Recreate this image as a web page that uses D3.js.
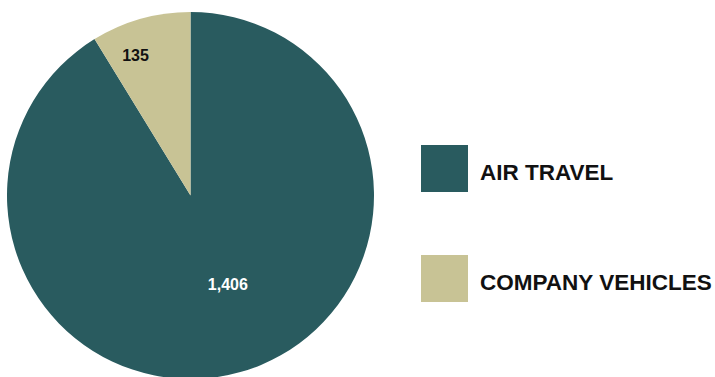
<!DOCTYPE html>
<html>
<head>
<meta charset="utf-8">
<script src="https://cdn.jsdelivr.net/npm/d3@7"></script>
<style>
  body { margin: 0; background: #fff; }
  svg { display: block; font-family: "Liberation Sans", Arial, sans-serif; }
</style>
</head>
<body>
<script>
const categories = ["AIR TRAVEL", "COMPANY VEHICLES"];
const values = [1406, 135];
const colors = ["#295b5f", "#c8c395"];

const width = 715, height = 377;
const cx = 190.5, cy = 195.5, radius = 183.5;

const svg = d3.select("body").append("svg")
    .attr("width", width)
    .attr("height", height);

const data = categories.map((c, i) => ({ name: c, value: values[i], color: colors[i] }));

// big slice starts at top and runs clockwise, small one fills the rest
const pie = d3.pie().sort(null).value(d => d.value);
const arcs = pie(data);

const arc = d3.arc().innerRadius(0).outerRadius(radius);

const g = svg.append("g").attr("transform", `translate(${cx},${cy})`);

g.selectAll("path")
    .data(arcs)
    .enter()
    .append("path")
    .attr("d", arc)
    .style("fill", d => d.data.color);

// label radius per slice
const labelR = [97, 150];
const labelColor = ["#ffffff", "#111111"];
g.selectAll("text.val")
    .data(arcs)
    .enter()
    .append("text")
    .attr("class", "val")
    .attr("transform", (d, i) => {
        const a = (d.startAngle + d.endAngle) / 2 + (i === 0 ? -0.12 : -0.1);
        return `translate(${Math.sin(a) * labelR[i]},${-Math.cos(a) * labelR[i] + 5})`;
    })
    .attr("text-anchor", "middle")
    .style("font-size", "16px")
    .style("font-weight", "bold")
    .style("fill", (d, i) => labelColor[i])
    .text(d => d3.format(",")(d.data.value));

// legend
const legend = svg.selectAll("g.legend")
    .data(data)
    .enter()
    .append("g")
    .attr("class", "legend")
    .attr("transform", (d, i) => `translate(421,${145 + i * 110})`);

legend.append("rect")
    .attr("width", 47)
    .attr("height", 47)
    .style("fill", d => d.color);

legend.append("text")
    .attr("x", 59)
    .attr("y", 35)
    .style("font-size", "22.5px")
    .style("font-weight", "bold")
    .style("fill", "#111")
    .text(d => d.name);
</script>
</body>
</html>
